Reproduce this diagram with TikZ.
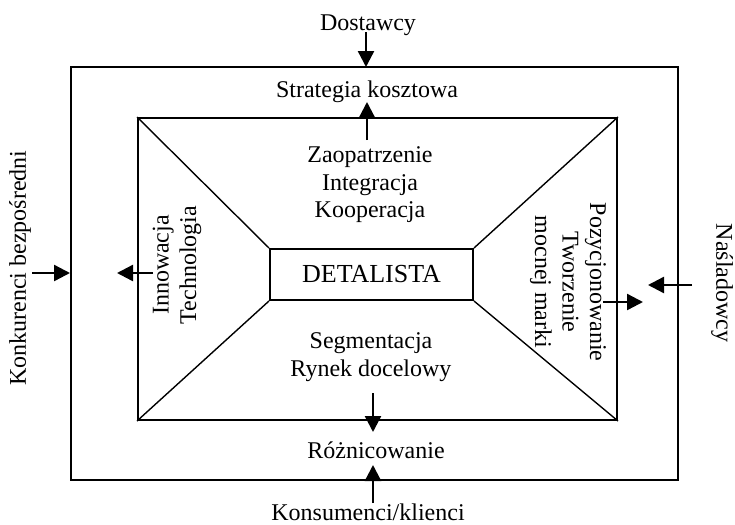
\documentclass[tikz,border=0pt]{standalone}
\usepackage{fontspec}
\setmainfont{Liberation Serif}
\usetikzlibrary{arrows.meta}
\tikzset{
  box/.style={draw, line width=1pt, inner sep=0pt},
  diag/.style={line width=0.7pt},
  txt/.style={font=\fontsize{12}{13.75}\selectfont, align=center, inner sep=0pt},
  push/.style={line width=1.2pt, -{Triangle[length=8pt,width=8pt]}}
}
\begin{document}
\begin{tikzpicture}[x=0.5pt, y=-0.5pt]
\useasboundingbox (0,0) rectangle (735,525);
\node[box, minimum width=303.5pt, minimum height=206.5pt] (outer) at (374.5,273.5){};
\node[box, minimum width=239.5pt, minimum height=151pt] (inner) at (377.5,269){};
\node[box, minimum width=101.5pt, minimum height=25.5pt, font=\fontsize{13}{15}\selectfont] (detalista) at (371.5,274.5){DETALISTA};
\draw[diag] (inner.north west) -- (detalista.north west);
\draw[diag] (inner.north east) -- (detalista.north east);
\draw[diag] (inner.south west) -- (detalista.south west);
\draw[diag] (inner.south east) -- (detalista.south east);
% texts
\node[txt] (dostawcy) at (368,25){Dostawcy};
\node[txt] (strategia) at (367,92){Strategia kosztowa};
\node[txt] (zaopatrzenie) at (370,185){Zaopatrzenie\\Integracja\\Kooperacja};
\node[txt] (segmentacja) at (371,357){Segmentacja\\Rynek docelowy};
\node[txt] (roznicowanie) at (376,450){Różnicowanie};
\node[txt] (konsumenci) at (368,512){Konsumenci/klienci};
\node[txt, rotate=90] (konkurenci) at (20,268){Konkurenci bezpośredni};
\node[txt, rotate=90] (innowacja) at (177,265){Innowacja\\Technologia};
\node[txt, rotate=-90] (pozycjonowanie) at (568,282){Pozycjonowanie\\Tworzenie\\mocnej marki};
\node[txt, rotate=-90] (nasladowcy) at (722,283){Naśladowcy};
% arrows
\coordinate (t0) at (366,32); \coordinate (t1) at (366,67);
\coordinate (t2) at (367,140); \coordinate (t3) at (367,102);
\coordinate (b0) at (373,393); \coordinate (b1) at (373,432);
\coordinate (b2) at (373,503); \coordinate (b3) at (373,465);
\coordinate (l0) at (32,273); \coordinate (l1) at (70,273);
\coordinate (l2) at (153,273); \coordinate (l3) at (117,273);
\coordinate (r0) at (692,285); \coordinate (r1) at (648,285);
\coordinate (r2) at (603,302); \coordinate (r3) at (643,302);
\draw[push] (t0) -- (t1);
\draw[push] (t2) -- (t3);
\draw[push] (b0) -- (b1);
\draw[push] (b2) -- (b3);
\draw[push] (l0) -- (l1);
\draw[push] (l2) -- (l3);
\draw[push] (r0) -- (r1);
\draw[push] (r2) -- (r3);
\end{tikzpicture}
\end{document}
